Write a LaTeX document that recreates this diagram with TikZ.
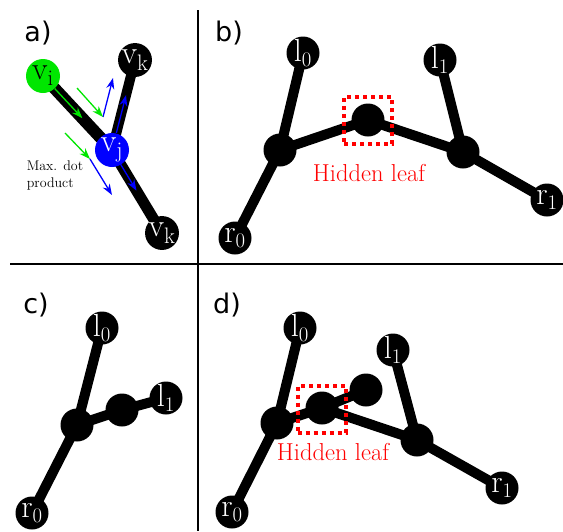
\documentclass[tikz,border=0pt]{standalone}
\usepackage{fontspec}
\newfontfamily\panelfont{DejaVu Sans}
\usetikzlibrary{backgrounds,calc,arrows.meta}
\definecolor{vgreen}{RGB}{0,230,0}
\definecolor{vblue}{RGB}{0,0,255}
\begin{document}
\begin{tikzpicture}[x=1pt,y=-1pt,
  ball/.style={circle,fill=black,minimum size=33pt,inner sep=0pt,text=white,
    font=\fontsize{32}{32}\selectfont},
  bond/.style={line width=10pt},
  paneltag/.style={font=\panelfont\fontsize{27}{27}\selectfont},
  hidbox/.style={draw=red,line width=4pt,dash pattern=on 4pt off 4pt,
    minimum width=48pt,minimum height=47pt,inner sep=0pt},
  hidtext/.style={text=red,font=\fontsize{24.5}{24.5}\selectfont},
  garrow/.style={draw=vgreen,line width=1.3pt,-{Stealth[length=11pt,width=8pt]}},
  barrow/.style={draw=vblue,line width=1.3pt,-{Stealth[length=11pt,width=8pt]}},
  divider/.style={line width=1.6pt}
]
\useasboundingbox (0,0) rectangle (563,531);

% panel dividers
\coordinate (vtop) at (198,10);
\coordinate (vbot) at (198,531);
\coordinate (hleft) at (10,264);
\coordinate (hright) at (563,264);
\draw[divider] (vtop) -- (vbot);
\draw[divider] (hleft) -- (hright);

% ---------------- panel a ----------------
\node[paneltag] (taga) at (38,33) {a)};
\node[ball,fill=vgreen,text=black,minimum size=34pt] (vi) at (43,76) {$\mathrm{v}_\mathrm{i}$};
\node[ball,fill=vblue,minimum size=34pt] (vj) at (112,150) {$\mathrm{v}_\mathrm{j}$};
\node[ball] (vka) at (135,60) {$\mathrm{v}_\mathrm{k}$};
\node[ball] (vkb) at (162,233) {$\mathrm{v}_\mathrm{k}$};
\begin{scope}[on background layer]
  \draw[line width=12pt] (vi.center) -- (vj.center);
  \draw[bond] (vj.center) -- (vka.center);
  \draw[line width=11pt] (vj.center) -- (vkb.center);
  \draw[garrow] ($(vi)!0.17!(vj)$) -- ($(vi)!0.57!(vj)$);
  \draw[barrow] ($(vj)!0.19!(vka)$) -- ($(vj)!0.61!(vka)$);
  \draw[barrow] ($(vj)!0.14!(vkb)$) -- ($(vj)!0.49!(vkb)$);
\end{scope}
% candidate directions
\coordinate (g1s) at (77,88);
\coordinate (g1e) at (103,117);
\coordinate (b1e) at (113,78);
\coordinate (g2s) at (65,133);
\coordinate (g2e) at (90,159);
\coordinate (b2e) at (112,195);
\draw[barrow] (g1e) -- (b1e);
\draw[garrow] (g1s) -- (g1e);
\draw[barrow] (g2e) -- (b2e);
\draw[garrow] (g2s) -- (g2e);
\node[align=left,font=\fontsize{14}{17}\selectfont,inner sep=0pt] (maxdot) at (55,175)
  {Max. dot\\product};

% ---------------- panel b ----------------
\node[paneltag] (tagb) at (229,33) {b)};
\node[ball] (bl0) at (303,53) {$\mathrm{l}_0$};
\node[ball] (bl1) at (440,60) {$\mathrm{l}_1$};
\node[ball] (bh) at (368,120) {};
\node[ball] (bjl) at (280,150) {};
\node[ball] (bjr) at (463,152) {};
\node[ball] (br0) at (235,238) {$\mathrm{r}_0$};
\node[ball] (br1) at (547,200) {$\mathrm{r}_1$};
\node[hidbox] (bbox) at (368,120.5) {};
\node[hidtext] (btxt) at (369,173) {Hidden leaf};
\begin{scope}[on background layer]
  \draw[bond] (bl0.center) -- (bjl.center) -- (br0.center);
  \draw[bond] (bjl.center) -- (bh.center) -- (bjr.center);
  \draw[bond] (bl1.center) -- (bjr.center) -- (br1.center);
\end{scope}

% ---------------- panel c ----------------
\node[paneltag] (tagc) at (36,305) {c)};
\node[ball] (cl0) at (102,328) {$\mathrm{l}_0$};
\node[ball] (cj) at (77,425) {};
\node[ball] (cm) at (122,410) {};
\node[ball] (cl1) at (166,398) {$\mathrm{l}_1$};
\node[ball] (cr0) at (32,513) {$\mathrm{r}_0$};
\begin{scope}[on background layer]
  \draw[bond] (cl0.center) -- (cj.center) -- (cr0.center);
  \draw[bond] (cj.center) -- (cm.center) -- (cl1.center);
\end{scope}

% ---------------- panel d ----------------
\node[paneltag] (tagd) at (227,305) {d)};
\node[ball] (dl0) at (300,328) {$\mathrm{l}_0$};
\node[ball] (dl1) at (393,350) {$\mathrm{l}_1$};
\node[ball] (dleaf) at (366,390) {};
\node[ball] (dh) at (322,408) {};
\node[ball] (djl) at (277,423) {};
\node[ball] (djr) at (417,440) {};
\node[ball] (dr1) at (502,488) {$\mathrm{r}_1$};
\node[ball] (dr0) at (232,512) {$\mathrm{r}_0$};
\node[hidbox] (dbox) at (321.5,409) {};
\node[hidtext] (dtxt) at (333,452) {Hidden leaf};
\begin{scope}[on background layer]
  \draw[bond] (dl0.center) -- (djl.center) -- (dr0.center);
  \draw[bond] (djl.center) -- (dh.center) -- (dleaf.center);
  \draw[bond] (dh.center) -- (djr.center);
  \draw[bond] (dl1.center) -- (djr.center) -- (dr1.center);
\end{scope}
\end{tikzpicture}
\end{document}
